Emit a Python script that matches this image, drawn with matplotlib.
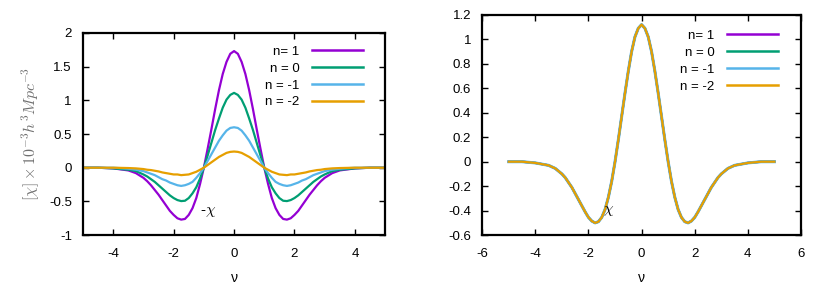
import matplotlib
matplotlib.use("Agg")
import matplotlib.pyplot as plt
from matplotlib.ticker import FormatStrFormatter

plt.rcParams['font.family'] = ['Liberation Sans', 'DejaVu Sans']
plt.rcParams['mathtext.fontset'] = 'cm'
plt.rcParams['axes.unicode_minus'] = False

# nu grid
nu = [-5, -4.5, -4, -3.5, -3.25, -3, -2.875, -2.75, -2.625, -2.5, -2.375, -2.25, -2.125, -2,
      -1.875, -1.75, -1.625, -1.5, -1.375, -1.25, -1.125, -1, -0.875, -0.75, -0.625, -0.5,
      -0.375, -0.25, -0.125, 0, 0.125, 0.25, 0.375, 0.5, 0.625, 0.75, 0.875, 1, 1.125, 1.25,
      1.375, 1.5, 1.625, 1.75, 1.875, 2, 2.125, 2.25, 2.375, 2.5, 2.625, 2.75, 2.875, 3,
      3.25, 3.5, 4, 4.5, 5]

# left panel: -chi for each n
chi_n1 = [0, 0, -0.01, -0.04, -0.08, -0.15, -0.20, -0.26, -0.33, -0.40, -0.48, -0.56, -0.64, -0.70,
          -0.75, -0.77, -0.76, -0.70, -0.60, -0.45, -0.24, 0, 0.28, 0.57, 0.87, 1.15,
          1.39, 1.57, 1.69, 1.73, 1.69, 1.57, 1.39, 1.15, 0.87, 0.57, 0.28, 0, -0.24, -0.45,
          -0.60, -0.70, -0.76, -0.77, -0.75, -0.70, -0.64, -0.56, -0.48, -0.40, -0.33, -0.26, -0.20, -0.15,
          -0.08, -0.04, -0.01, 0, 0]
chi_n0 = [0, 0, -0.01, -0.03, -0.05, -0.10, -0.13, -0.17, -0.21, -0.26, -0.31, -0.36, -0.41, -0.45,
          -0.48, -0.495, -0.49, -0.45, -0.38, -0.29, -0.16, 0, 0.18, 0.37, 0.56, 0.73,
          0.89, 1.01, 1.08, 1.11, 1.08, 1.01, 0.89, 0.73, 0.56, 0.37, 0.18, 0, -0.16, -0.29,
          -0.38, -0.45, -0.49, -0.495, -0.48, -0.45, -0.41, -0.36, -0.31, -0.26, -0.21, -0.17, -0.13, -0.10,
          -0.05, -0.03, -0.01, 0, 0]
chi_nm1 = [0, 0, 0, -0.015, -0.03, -0.05, -0.07, -0.09, -0.11, -0.14, -0.17, -0.19, -0.22, -0.24,
           -0.26, -0.27, -0.26, -0.24, -0.21, -0.15, -0.08, 0, 0.10, 0.20, 0.30, 0.40,
           0.48, 0.55, 0.59, 0.60, 0.59, 0.55, 0.48, 0.40, 0.30, 0.20, 0.10, 0, -0.08, -0.15,
           -0.21, -0.24, -0.26, -0.27, -0.26, -0.24, -0.22, -0.19, -0.17, -0.14, -0.11, -0.09, -0.07, -0.05,
           -0.03, -0.015, 0, 0, 0]
chi_nm2 = [0, 0, 0, -0.005, -0.01, -0.02, -0.03, -0.035, -0.045, -0.055, -0.07, -0.08, -0.09, -0.10,
           -0.10, -0.11, -0.105, -0.10, -0.08, -0.06, -0.03, 0, 0.04, 0.08, 0.12, 0.16,
           0.19, 0.22, 0.235, 0.24, 0.235, 0.22, 0.19, 0.16, 0.12, 0.08, 0.04, 0, -0.03, -0.06,
           -0.08, -0.10, -0.105, -0.11, -0.10, -0.10, -0.09, -0.08, -0.07, -0.055, -0.045, -0.035, -0.03, -0.02,
           -0.01, -0.005, 0, 0, 0]

# right panel: the four n curves lie on top of each other
chi_right = [0, 0, -0.01, -0.03, -0.055, -0.10, -0.13, -0.17, -0.21, -0.26, -0.31, -0.36, -0.41, -0.455,
             -0.485, -0.50, -0.49, -0.455, -0.39, -0.29, -0.16, 0, 0.18, 0.37, 0.56, 0.74,
             0.90, 1.02, 1.09, 1.12, 1.09, 1.02, 0.90, 0.74, 0.56, 0.37, 0.18, 0, -0.16, -0.29,
             -0.39, -0.455, -0.49, -0.50, -0.485, -0.455, -0.41, -0.36, -0.31, -0.26, -0.21, -0.17, -0.13, -0.10,
             -0.055, -0.03, -0.01, 0, 0]

labels = ['n= 1', 'n = 0', 'n = -1', 'n = -2']
colors = ['#9400D3', '#009E73', '#56B4E9', '#E69F00']
left_series = [chi_n1, chi_n0, chi_nm1, chi_nm2]
right_series = [chi_right, chi_right, chi_right, chi_right]

fig = plt.figure(figsize=(8.3, 2.91), dpi=100)
ax1 = fig.add_axes([0.100, 0.192, 0.364, 0.695])
ax2 = fig.add_axes([0.581, 0.192, 0.384, 0.757])


def style_axes(ax):
    for s in ax.spines.values():
        s.set_linewidth(1.6)
    ax.tick_params(direction='in', length=4.5, width=1.0, top=True, right=True,
                   labelsize=9.5, colors='black')
    ax.tick_params(axis='x', pad=9)
    ax.tick_params(axis='y', pad=8)
    ax.yaxis.set_major_formatter(FormatStrFormatter('%g'))
    ax.xaxis.set_major_formatter(FormatStrFormatter('%g'))
    ax.set_xlabel('ν', fontsize=10, labelpad=8)


def add_legend(ax, anchor):
    leg = ax.legend(loc='upper right', bbox_to_anchor=anchor, frameon=False, markerfirst=False,
                    fontsize=9.5, handlelength=3.9, handletextpad=0.9, labelspacing=0.35,
                    borderpad=0, borderaxespad=0)
    # right-align the text entries like gnuplot
    leg._legend_box._children[1]._children[0].align = 'right'
    for h in leg.get_lines():
        h.set_linewidth(1.8)
    return leg


for ys, c, lab in zip(left_series, colors, labels):
    ax1.plot(nu, ys, color=c, lw=1.6, label=lab)
ax1.set_xlim(-5, 5)
ax1.set_ylim(-1, 2)
ax1.set_xticks([-4, -2, 0, 2, 4])
ax1.set_yticks([-1, -0.5, 0, 0.5, 1, 1.5, 2])
style_axes(ax1)
ax1.set_ylabel(r'$[\chi]\times10^{-3}h^3Mpc^{-3}$', color='#707070', fontsize=11.5, labelpad=5)
ax1.text(-1.12, -0.66, r'-$\chi$', fontsize=11, ha='left', va='center')
add_legend(ax1, (0.927, 0.937))

widths = [1.6, 1.6, 2.2, 1.6]
for ys, c, lab, w in zip(right_series, colors, labels, widths):
    ax2.plot(nu, ys, color=c, lw=w, label=lab)
ax2.set_xlim(-6, 6)
ax2.set_ylim(-0.6, 1.2)
ax2.set_xticks([-6, -4, -2, 0, 2, 4, 6])
ax2.set_yticks([-0.6, -0.4, -0.2, 0, 0.2, 0.4, 0.6, 0.8, 1, 1.2])
style_axes(ax2)
ax2.text(-1.45, -0.40, r'$\chi$', fontsize=11, ha='left', va='center')
add_legend(ax2, (0.928, 0.932))

fig.savefig('out.png', dpi=100)
